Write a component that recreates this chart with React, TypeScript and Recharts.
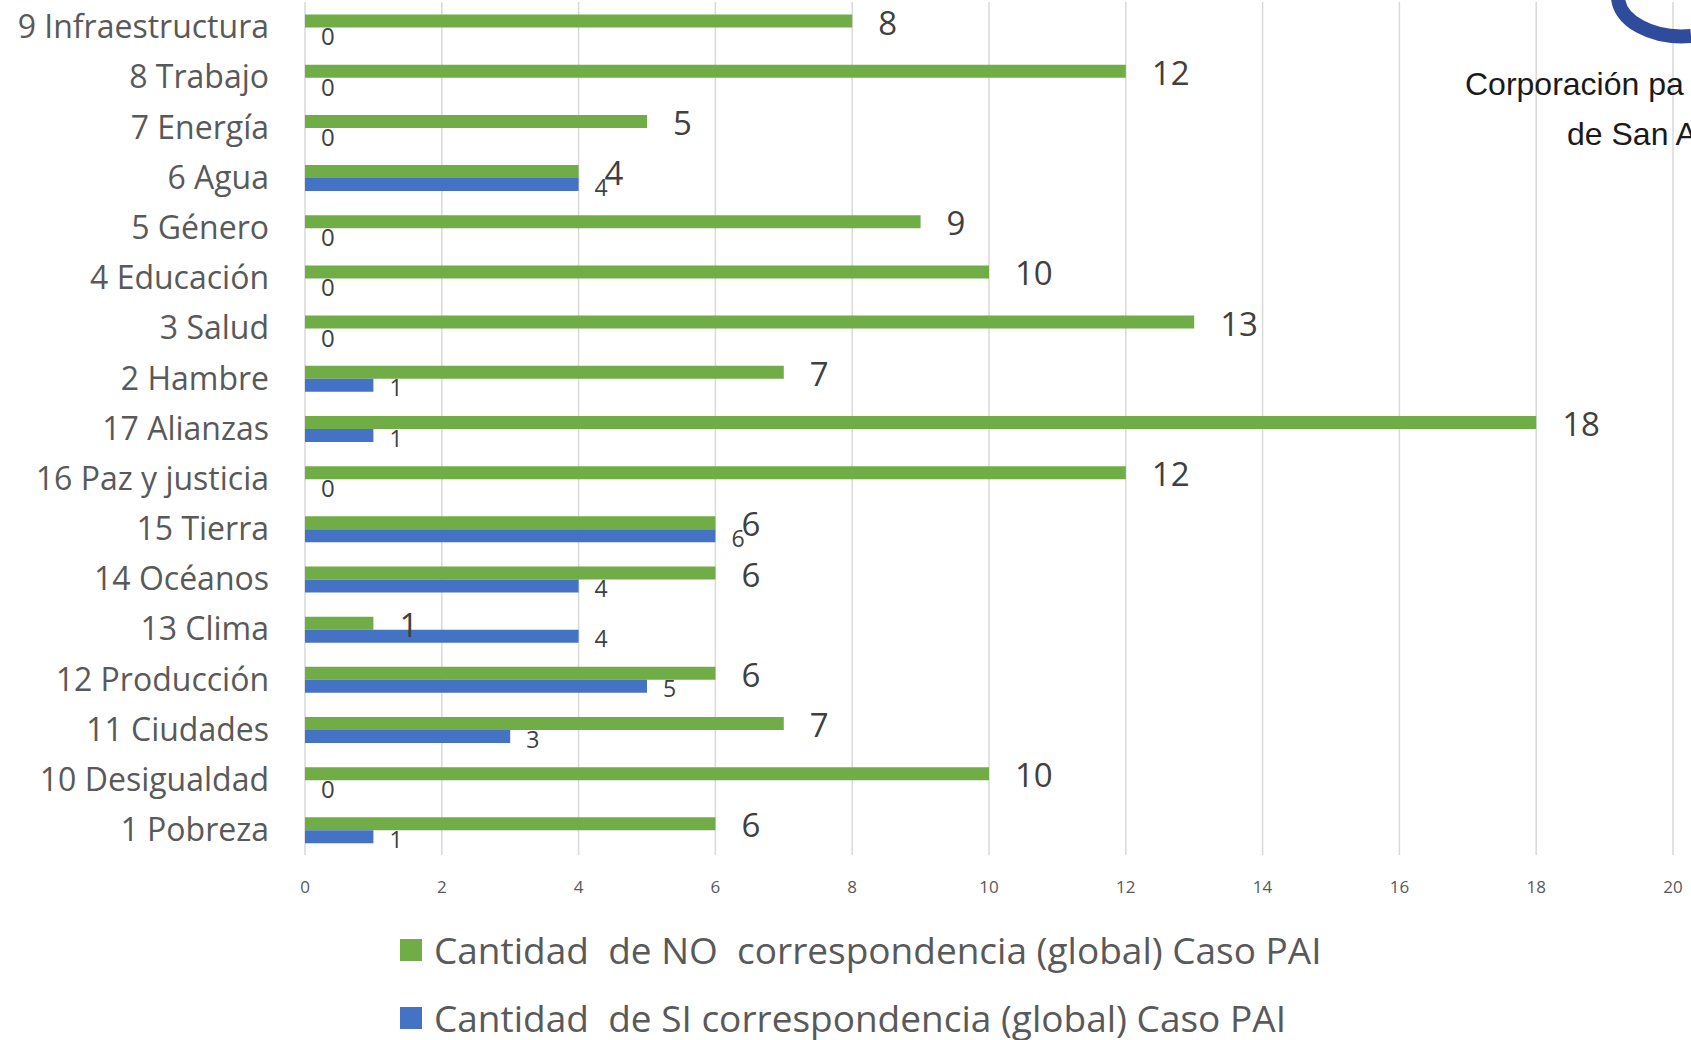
import React from "react";
import { Bar, BarChart, CartesianGrid, LabelList, XAxis, YAxis } from "recharts";

const categories = [
  "9 Infraestructura",
  "8 Trabajo",
  "7 Energía",
  "6 Agua",
  "5 Género",
  "4 Educación",
  "3 Salud",
  "2 Hambre",
  "17 Alianzas",
  "16 Paz y justicia",
  "15 Tierra",
  "14 Océanos",
  "13 Clima",
  "12 Producción",
  "11 Ciudades",
  "10 Desigualdad",
  "1 Pobreza",
];
const noValues = [8, 12, 5, 4, 9, 10, 13, 7, 18, 12, 6, 6, 1, 6, 7, 10, 6];
const siValues = [0, 0, 0, 4, 0, 0, 0, 1, 1, 0, 6, 4, 4, 5, 3, 0, 1];
const xTicks = [0, 2, 4, 6, 8, 10, 12, 14, 16, 18, 20];

const NO_LABEL = "Cantidad  de NO  correspondencia (global) Caso PAI";
const SI_LABEL = "Cantidad  de SI correspondencia (global) Caso PAI";

const GREEN = "#70ad47";
const BLUE = "#4472c4";
const FONT = "'Open Sans', sans-serif";

const rows = categories.map((name, i) => ({ name, no: noValues[i], si: siValues[i] }));

const YTick = (props: any) => {
  const { x, y, payload } = props;
  return (
    <text x={x} y={y} dy="0.35em" textAnchor="end" fill="#595959" fontSize={32} fontFamily={FONT}>
      {payload.value}
    </text>
  );
};

const makeLabel = (dx: number, dy: number, size: number) => (props: any) => {
  const { x, y, width, height, value } = props;
  const w = Number.isFinite(width) ? width : 0;
  return (
    <text x={x + w + dx} y={y + height / 2 + dy} dy="0.35em" fill="#404040" fontSize={size} fontFamily={FONT}>
      {String(value)}
    </text>
  );
};

// zero-valued SI bars have no rectangle, so their "0" label is placed under the NO bar
const ZeroSiLabel = (props: any) => {
  const { x, y, height, index } = props;
  if (siValues[index] !== 0) return null;
  return (
    <text x={x + 16} y={y + height * 1.5 + 3} dy="0.35em" fill="#404040" fontSize={24} fontFamily={FONT}>
      {String(siValues[index])}
    </text>
  );
};

export default function App() {
  return (
    <div style={{ position: "absolute", left: 0, top: 0, width: 1691, height: 1040, background: "#fff", overflow: "hidden" }}>
      <BarChart
        width={1691}
        height={900}
        data={rows}
        layout="vertical"
        margin={{ top: 2, right: 18, bottom: 0, left: 0 }}
        barCategoryGap="25%"
        barGap={0}
      >
        <CartesianGrid horizontal={false} stroke="#d9d9d9" strokeWidth={1.5} />
        <XAxis
          type="number"
          domain={[0, 20]}
          ticks={xTicks}
          interval={0}
          axisLine={false}
          tickLine={false}
          tickSize={0}
          tickMargin={26}
          height={45}
          tick={{ fill: "#595959", fontSize: 17, fontFamily: FONT }}
        />
        <YAxis
          type="category"
          dataKey="name"
          width={305}
          axisLine={false}
          tickLine={false}
          tickSize={0}
          tickMargin={36}
          interval={0}
          tick={<YTick />}
        />
        <Bar dataKey="no" fill={GREEN} isAnimationActive={false}>
          <LabelList dataKey="no" content={makeLabel(26, 2, 33)} />
          <LabelList dataKey="no" content={ZeroSiLabel} />
        </Bar>
        <Bar dataKey="si" fill={BLUE} isAnimationActive={false}>
          <LabelList dataKey="si" content={makeLabel(16, 3, 23)} />
        </Bar>
      </BarChart>

      <div style={{ position: "absolute", left: 400, top: 925, fontFamily: FONT, fontSize: 37, color: "#595959", lineHeight: "50px" }}>
        <div style={{ display: "flex", alignItems: "center", whiteSpace: "pre", height: 50 }}>
          <span style={{ display: "inline-block", width: 22, height: 22, background: GREEN, marginRight: 12 }} />
          {NO_LABEL}
        </div>
        <div style={{ display: "flex", alignItems: "center", whiteSpace: "pre", height: 50, marginTop: 18 }}>
          <span style={{ display: "inline-block", width: 22, height: 22, background: BLUE, marginRight: 12 }} />
          {SI_LABEL}
        </div>
      </div>

      <svg style={{ position: "absolute", left: 1560, top: 0 }} width={131} height={60}>
        <path d="M 58 -4 A 64 40 0 0 0 131 36" fill="none" stroke="#2f4b9b" strokeWidth={14} />
      </svg>
      <div style={{ position: "absolute", left: 1465, top: 64, fontFamily: "'Liberation Sans', Arial, sans-serif", fontSize: 32, color: "#1a1a1a", whiteSpace: "pre", lineHeight: "40px" }}>
        Corporación pa
      </div>
      <div style={{ position: "absolute", left: 1567, top: 114, fontFamily: "'Liberation Sans', Arial, sans-serif", fontSize: 32, color: "#1a1a1a", whiteSpace: "pre", lineHeight: "40px" }}>
        de San A
      </div>
    </div>
  );
}
